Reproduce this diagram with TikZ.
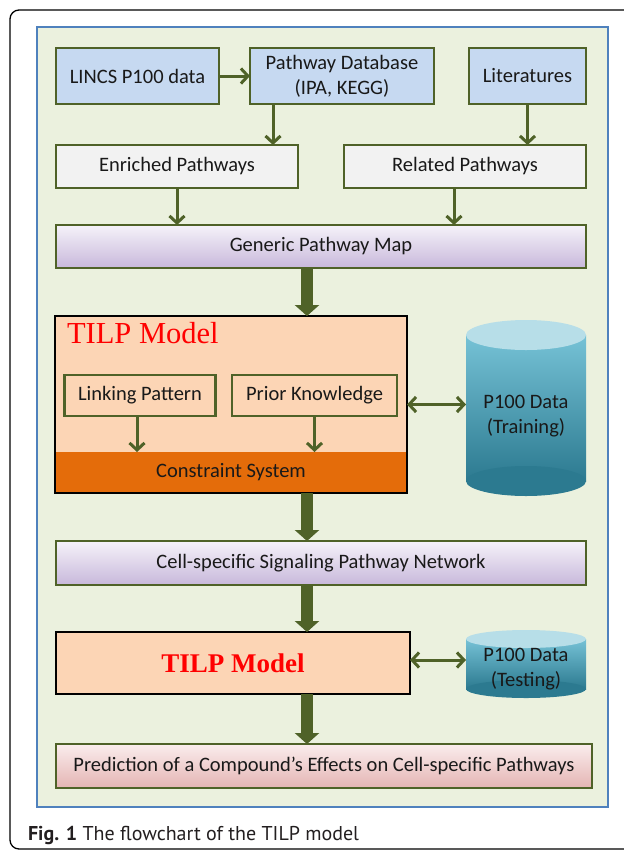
\documentclass[tikz,border=0pt]{standalone}
\usepackage{fontspec}
\setmainfont{Carlito}
\newfontfamily\timesf{Liberation Serif}
\newfontfamily\capf{PT Sans}
\usetikzlibrary{arrows.meta}
\definecolor{olivec}{HTML}{4F6228}
\definecolor{panelfill}{HTML}{EBF1DE}
\definecolor{panelline}{HTML}{4F81BD}
\definecolor{bluefill}{HTML}{C6D9F1}
\definecolor{greyfill}{HTML}{F2F2F2}
\definecolor{peach}{HTML}{FCD5B5}
\definecolor{orangeband}{HTML}{E46C0A}
\definecolor{lavtop}{HTML}{F5F2F9}
\definecolor{lavbot}{HTML}{C8B8DB}
\definecolor{pinktop}{HTML}{FAEDED}
\definecolor{pinkbot}{HTML}{E4B4B3}
\definecolor{cyltop}{HTML}{B7DEE8}
\definecolor{cylmid}{HTML}{76C2D6}
\definecolor{cylbot}{HTML}{2C7A90}
\definecolor{captext}{HTML}{231F20}
\definecolor{redtext}{HTML}{FF0000}
\begin{document}
\begin{tikzpicture}[x=1pt,y=-1pt,
 every node/.style={inner sep=0pt, outer sep=0pt, align=center, font=\fontsize{20.5}{25}\selectfont, text=black!90},
 box/.style={draw=olivec, line width=2.5pt},
 thinarrow/.style={draw=olivec, line width=3pt, -{Straight Barb[length=7pt,width=15pt]}},
 botharrow/.style={draw=olivec, line width=3pt, {Straight Barb[length=7pt,width=15pt]}-{Straight Barb[length=7pt,width=15pt]}},
 thickarrow/.style={draw=olivec, line width=12pt, -{Triangle[length=11pt,width=24pt]}},
 cylbox/.style={minimum width=120pt},
]
\useasboundingbox (0,0) rectangle (624,852);
\fill[white] (0,0) rectangle (624,852);
% outer frame
\draw[line width=1.3pt, rounded corners=9pt] (650,10) -- (10,10) -- (10,849) -- (650,849);
% panel
\draw[fill=panelfill, draw=panelline, line width=1.8pt] (37,27) rectangle (608,807);

% row 1
\node[box, fill=bluefill, minimum width=163pt, minimum height=56pt] (lincs) at (137.5,76) {LINCS P100 data};
\node[box, fill=bluefill, minimum width=184pt, minimum height=56pt] (pdb) at (342,76) {Pathway Database\\(IPA, KEGG)};
\node[box, fill=bluefill, minimum width=117pt, minimum height=56pt] (lit) at (527.5,76) {Literatures};
% row 2
\node[box, fill=greyfill, minimum width=242pt, minimum height=43pt] (enr) at (177,166.5) {Enriched Pathways};
\node[box, fill=greyfill, minimum width=242pt, minimum height=43pt] (rel) at (465,166.5) {Related Pathways};
% row 3
\node[box, top color=lavtop, bottom color=lavbot, minimum width=530pt, minimum height=43pt] (gen) at (321,246.5) {Generic Pathway Map};

% TILP model 1
\node[fill=peach, minimum width=352pt, minimum height=177pt] (tilp) at (231,404.5) {};
\node[fill=orangeband, minimum width=352pt, minimum height=41pt] (cons) at (231,472.5) {Constraint System};
\draw[black, line width=1.2pt] (tilp.north west) rectangle (tilp.south east);
\node[anchor=west, font=\timesf\fontsize{30.5}{36}\selectfont, text=redtext] (tt) at (67,333) {TILP Model};
\node[box, fill=peach, minimum width=151pt, minimum height=41pt] (link) at (140,395.5) {Linking Pattern};
\node[box, fill=peach, minimum width=165pt, minimum height=41pt] (prior) at (314.5,395.5) {Prior Knowledge};

% cylinder training
\shade[top color=cylmid, bottom color=cylbot] (466,335) rectangle (586,481);
\fill[cylbot] (526,481) ellipse [x radius=60pt, y radius=15pt];
\fill[cyltop] (526,335) ellipse [x radius=60pt, y radius=15pt];
\node[cylbox] (train) at (526,416) {P100 Data\\(Training)};

% cell-specific
\node[box, top color=lavtop, bottom color=lavbot, minimum width=530pt, minimum height=44pt] (cell) at (321,563) {Cell-specific Signaling Pathway Network};

% TILP model 2
\node[draw=black, line width=1.2pt, fill=peach, minimum width=354pt, minimum height=62pt, font=\timesf\bfseries\fontsize{27}{32}\selectfont, text=redtext] (tilp2) at (233,663) {TILP Model};

% cylinder testing
\shade[top color=cylmid, bottom color=cylbot] (466,639) rectangle (586,689);
\fill[cylbot] (526,689) ellipse [x radius=60pt, y radius=9pt];
\fill[cyltop] (526,639) ellipse [x radius=60pt, y radius=9pt];
\node[cylbox] (test) at (526,669.5) {P100 Data\\(Testing)};

% prediction
\node[box, top color=pinktop, bottom color=pinkbot, minimum width=536pt, minimum height=44pt] (pred) at (324,766) {Prediction of a Compound’s Effects on Cell-specific Pathways};

% thin arrows
\draw[thinarrow] (lincs.east) -- (pdb.west);
\draw[thinarrow] ([xshift=23pt]pdb.south west) -- ([xshift=23pt]pdb.south west |- enr.north);
\draw[thinarrow] (lit.south) -- (lit.south |- rel.north);
\draw[thinarrow] (enr.south) -- (enr.south |- gen.north);
\draw[thinarrow] ([xshift=-11pt]rel.south) -- ([xshift=-11pt]rel.south |- gen.north);
\draw[thinarrow] ([xshift=-3pt]link.south) -- ([xshift=-3pt]link.south |- cons.north);
\draw[thinarrow] (prior.south) -- (prior.south |- cons.north);
\draw[botharrow] (tilp.east) -- (tilp.east -| train.west);
\draw[botharrow] ([yshift=3pt]tilp2.east) -- ([yshift=3pt]tilp2.east -| test.west);

% thick arrows
\coordinate (spine) at (307,0);
\draw[thickarrow] (gen.south -| spine) -- (tilp.north -| spine);
\draw[thickarrow] (cons.south -| spine) -- (cell.north -| spine);
\draw[thickarrow] (cell.south -| spine) -- (tilp2.north -| spine);
\draw[thickarrow] (tilp2.south -| spine) -- (pred.north -| spine);

% caption
\node[anchor=base west, font=\capf\fontsize{20}{24}\selectfont, text=captext] (cap) at (28,840) {\textbf{Fig. 1} The flowchart of the TILP model};
\end{tikzpicture}
\end{document}
